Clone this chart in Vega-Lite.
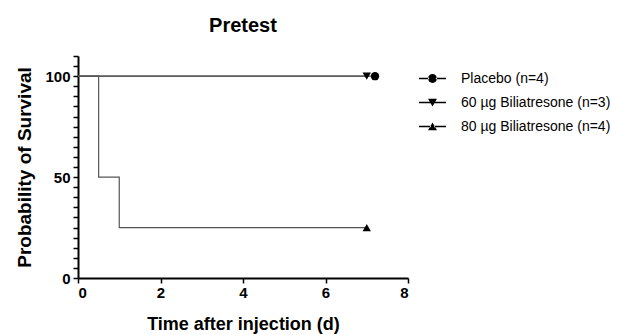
{
  "$schema": "https://vega.github.io/schema/vega-lite/v6.json",
  "autosize": {"type": "none"},
  "width": 330,
  "height": 222,
  "padding": {"left": 78, "top": 56, "right": 210, "bottom": 57},
  "background": "white",
  "title": {"text": "Pretest", "font": "Liberation Sans", "fontSize": 20, "fontWeight": "bold", "color": "black", "anchor": "middle", "offset": 19},
  "config": {
    "view": {"stroke": null},
    "axis": {"domainColor": "black", "domainWidth": 2, "tickColor": "black", "tickWidth": 1.5, "grid": false,
      "labelFont": "Liberation Sans", "labelFontSize": 15, "labelFontWeight": "bold", "labelColor": "black",
      "titleFont": "Liberation Sans", "titleFontWeight": "bold", "titleColor": "black"}
  },
  "data": {"values": [
    {"group": "Placebo (n=4)", "t": 0, "s": 100, "kind": "step"},
    {"group": "Placebo (n=4)", "t": 7.2, "s": 100, "kind": "step"},
    {"group": "60 µg Biliatresone (n=3)", "t": 0, "s": 100, "kind": "step"},
    {"group": "60 µg Biliatresone (n=3)", "t": 7, "s": 100, "kind": "step"},
    {"group": "80 µg Biliatresone (n=4)", "t": 0, "s": 100, "kind": "step"},
    {"group": "80 µg Biliatresone (n=4)", "t": 0.5, "s": 50, "kind": "step"},
    {"group": "80 µg Biliatresone (n=4)", "t": 1, "s": 25, "kind": "step"},
    {"group": "80 µg Biliatresone (n=4)", "t": 7, "s": 25, "kind": "step"},
    {"group": "Placebo (n=4)", "t": 7.2, "s": 100, "kind": "censor"},
    {"group": "60 µg Biliatresone (n=3)", "t": 7, "s": 100, "kind": "censor"},
    {"group": "80 µg Biliatresone (n=4)", "t": 7, "s": 25, "kind": "censor"}
  ]},
  "encoding": {
    "x": {"field": "t", "type": "quantitative", "scale": {"domain": [0, 8], "nice": false},
      "axis": {"title": "Time after injection (d)", "titleFontSize": 18, "values": [0, 2, 4, 6, 8], "tickSize": 5, "labelPadding": 2, "titlePadding": 15}},
    "y": {"field": "s", "type": "quantitative", "scale": {"domain": [0, 110], "nice": false},
      "axis": {"title": "Probability of Survival", "titleFontSize": 19, "values": [0,5,10,15,20,25,30,35,40,45,50,55,60,65,70,75,80,85,90,95,100,105,110],
        "labelExpr": "datum.value % 50 === 0 ? datum.label : ''", "tickSize": 5, "labelPadding": 3, "titlePadding": 10}}
  },
  "layer": [
    {
      "transform": [{"filter": "datum.kind === 'step'"}],
      "mark": {"type": "line", "interpolate": "step-after", "color": "#555555", "strokeWidth": 1.2},
      "encoding": {"detail": {"field": "group"}}
    },
    {
      "transform": [{"filter": "datum.kind === 'censor'"}],
      "mark": {"type": "point", "filled": true, "color": "black", "opacity": 1, "size": 70},
      "encoding": {
        "shape": {"field": "group", "type": "nominal",
          "scale": {"domain": ["Placebo (n=4)", "60 µg Biliatresone (n=3)", "80 µg Biliatresone (n=4)"], "range": ["circle", "triangle-down", "triangle-up"]},
          "legend": null}
      }
    },
    {
      "transform": [{"filter": "datum.kind === 'censor'"}],
      "mark": {"type": "point", "filled": true, "color": "black", "opacity": 0},
      "encoding": {
        "shape": {"field": "group", "type": "nominal",
          "scale": {"domain": ["Placebo (n=4)", "60 µg Biliatresone (n=3)", "80 µg Biliatresone (n=4)"],
            "range": [
              "M-1,-0.05H-0.25V0.05H-1ZM0.25,-0.05H1V0.05H0.25ZM-0.33,0A0.33,0.33 0 1,0 0.33,0A0.33,0.33 0 1,0 -0.33,0Z",
              "M-1,-0.05H-0.12V0.05H-1ZM0.12,-0.05H1V0.05H0.12ZM-0.33,-0.28L0.33,-0.28L0,0.3Z",
              "M-1,-0.05H-0.12V0.05H-1ZM0.12,-0.05H1V0.05H0.12ZM-0.33,0.28L0.33,0.28L0,-0.3Z"]},
          "legend": {"title": null, "orient": "none", "legendX": 340, "legendY": 8, "symbolSize": 729,
            "symbolFillColor": "black", "symbolOpacity": 1,
            "labelFont": "Liberation Sans", "labelFontSize": 14, "labelColor": "black", "labelOffset": 14, "rowPadding": 2}
        }
      }
    }
  ],
  "resolve": {"scale": {"shape": "independent"}}
}
